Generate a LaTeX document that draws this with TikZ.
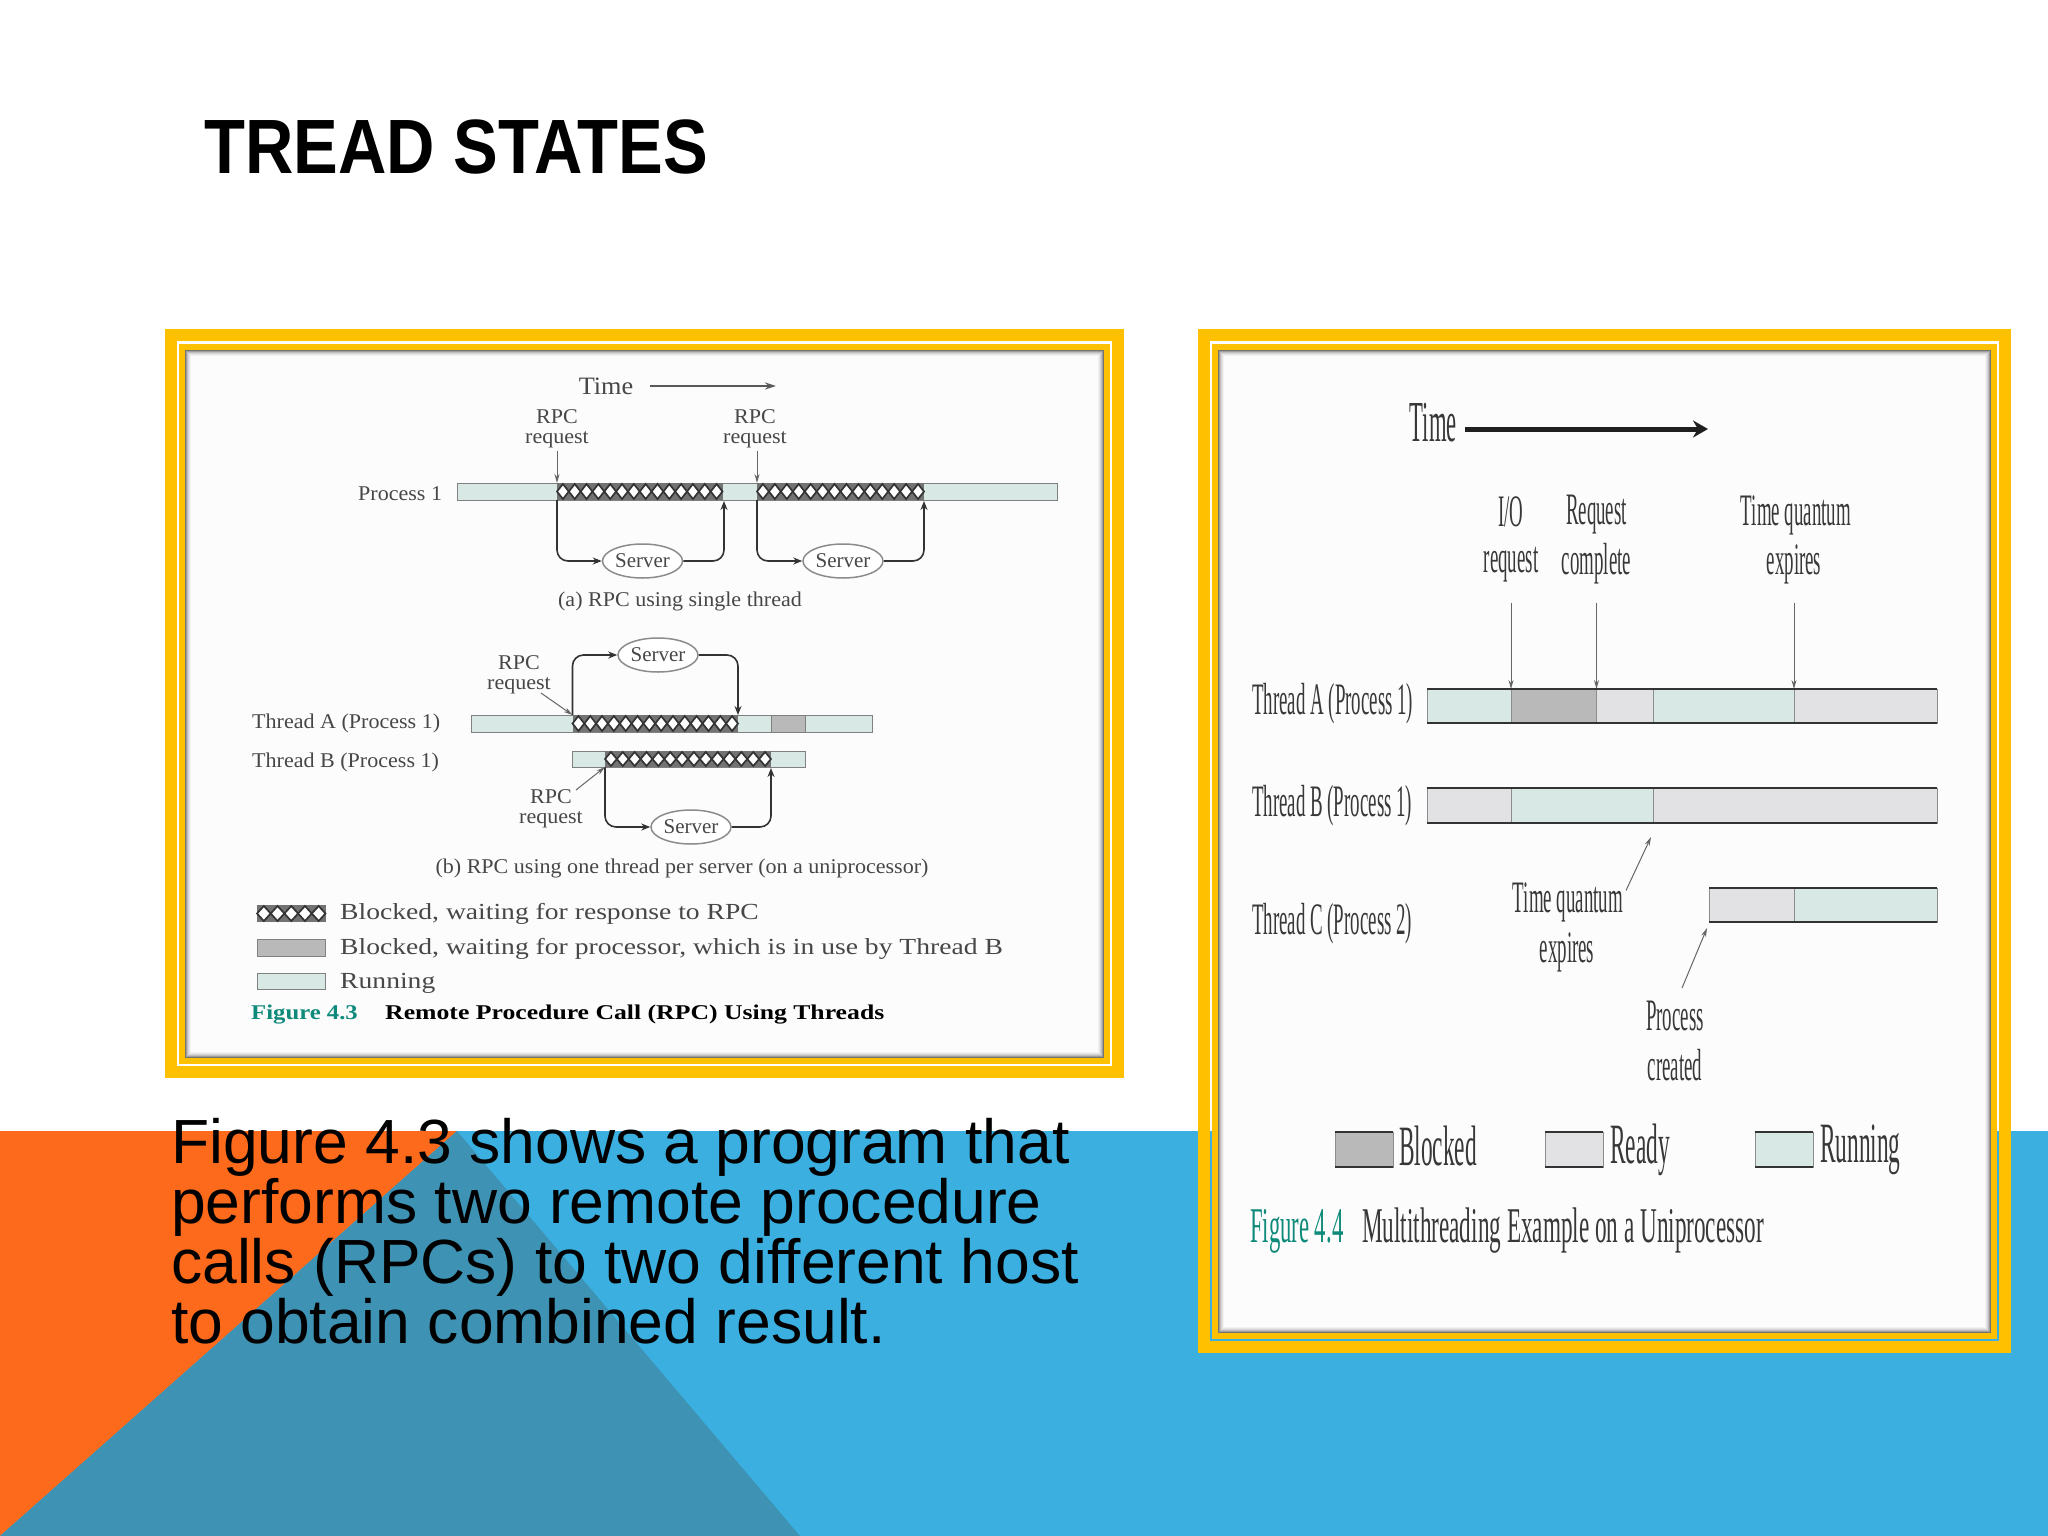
\documentclass[tikz,border=0pt]{standalone}
\usepackage{fontspec}
\setmainfont{Liberation Sans}
\newfontfamily\figserif{Liberation Serif}
\usetikzlibrary{arrows.meta,shapes.geometric}
\definecolor{goldcol}{HTML}{FFC000}
\definecolor{bandblue}{HTML}{3BB0E0}
\definecolor{bandorange}{HTML}{FD6A1B}
\definecolor{banddark}{HTML}{3E93B5}
\definecolor{runcol}{HTML}{D8E8E4}
\definecolor{readycol}{HTML}{E2E2E4}
\definecolor{blockcol}{HTML}{B9B9B9}
\definecolor{figteal}{HTML}{0E8A7A}
\def\hatchbar(#1,#2,#3,#4){
	\fill[black!55] (#1,#2) rectangle (#3,#4);
	\pgfmathtruncatemacro{\nhatch}{(#3-#1)/11.8}
	\foreach \i in {1,...,\nhatch}{
		\draw[black!80, line width=1.7pt, fill=white] ({#1+(\i-1)*(#3-#1)/\nhatch},{(#2+#4)/2}) -- ({#1+(\i-0.5)*(#3-#1)/\nhatch},{#2+1}) -- ({#1+\i*(#3-#1)/\nhatch},{(#2+#4)/2}) -- ({#1+(\i-0.5)*(#3-#1)/\nhatch},{#4-1}) -- cycle;
	}
}
\def\framepair(#1,#2,#3,#4){
	\draw[goldcol, line width=12pt] (#1+6,#2+6) rectangle (#3-6,#4-6);
	\draw[goldcol, line width=6pt] (#1+17,#2+18) rectangle (#3-17,#4-17);
	\fill[white!99!black] (#1+20,#2+21) rectangle (#3-20,#4-20);
	\foreach \d/\c in {5.5/5, 4.5/10, 3.5/16, 2.5/26, 1.5/38, 0.5/55}{
		\draw[black!\c, line width=1pt] (#1+20+\d,#2+21+\d) rectangle (#3-20-\d,#4-20-\d);
	}
}
\tikzset{
	smalltext/.style={font=\figserif\fontsize{21}{21}\selectfont, text=black!72, inner sep=0pt, xscale=1.05},
	legendtext/.style={font=\figserif\fontsize{23}{23}\selectfont, text=black!72, inner sep=0pt, anchor=west, xscale=1.2},
	talltext/.style={font=\figserif\fontsize{45}{45}\selectfont, text=black!78, inner sep=0pt, xscale=0.42},
	thinarrow/.style={draw=black!60, line width=1pt, -{Stealth[length=9pt,width=5pt]}},
	callline/.style={draw=black!80, line width=1.6pt, rounded corners=11pt},
	callarrow/.style={callline, -{Stealth[length=9pt,width=7pt]}},
	server/.style={ellipse, draw=black!45, line width=1.5pt, fill=white, inner sep=0pt, minimum width=80pt, minimum height=34pt, font=\figserif\fontsize{21}{21}\selectfont, text=black!72},
	lbar/.style={draw=black!50, line width=1pt},
	rbar/.style={draw=black!45, line width=1pt},
}
\begin{document}
\begin{tikzpicture}[x=1pt, y=-1pt]
			%%%%% BACKGROUND %%%%%
			\useasboundingbox (0,0) rectangle (2048,1536);
			\fill[white] (0,0) rectangle (2048,1536);
			\fill[bandblue] (0,1131) rectangle (2048,1536);
			\fill[bandorange] (0,1131) -- (457,1131) -- (0,1536) -- cycle;
			\fill[banddark] (457,1131) -- (800,1536) -- (0,1536) -- cycle;
			
			\node[font=\bfseries\fontsize{77}{77}\selectfont, anchor=base west, inner sep=0pt, xscale=0.87] (title) at (204,174) {TREAD STATES};
			
			\node[font=\fontsize{62.4}{60}\selectfont, align=left, anchor=north west, inner sep=0pt] (body) at (171,1118) {Figure 4.3 shows a program that\\performs two remote procedure\\calls (RPCs) to two different host\\to obtain combined result.};
			
			%%%%% LEFT FIGURE %%%%%
			\framepair(165,329,1124,1078);
			
			\node[smalltext, font=\figserif\fontsize{25}{25}\selectfont] (timea) at (606,386) {Time};
			\coordinate (timeas) at (650,386);
			\coordinate (timeae) at (776,386);
			\draw[draw=black!65, line width=1.8pt, -{Stealth[length=11pt,width=7pt]}] (timeas) -- (timeae);
			
			\node[smalltext, align=center] (rpca) at (557,428.5) {RPC\\[-1pt]request};
			\node[smalltext, align=center] (rpcb) at (755,428.5) {RPC\\[-1pt]request};
			\node[smalltext, anchor=west] (proca) at (358,494) {Process 1};
			
			% process 1
			\draw[lbar, fill=runcol] (457,483) rectangle (1057,500);
			\hatchbar(557,483,722.5,500);
			\hatchbar(757,483,924,500);
			
			\coordinate (pa) at (557,483);
			\coordinate (pb) at (557,500);
			\coordinate (pc) at (724,501);
			\coordinate (pd) at (757,483);
			\coordinate (pe) at (757,500);
			\coordinate (pf) at (924,501);
			\coordinate (rpcafoot) at (557,451);
			\coordinate (rpcbfoot) at (757,451);
			\node[server] (srva) at (642.5,561) {Server};
			\node[server] (srvb) at (843,561) {Server};
			\draw[thinarrow] (rpcafoot) -- (pa);
			\draw[thinarrow] (rpcbfoot) -- (pd);
			\draw[callarrow] (pb) |- (srva.west);
			\draw[callarrow] (srva.east) -| (pc);
			\draw[callarrow] (pe) |- (srvb.west);
			\draw[callarrow] (srvb.east) -| (pf);
			
			\node[smalltext] (capa) at (680,601.5) {(a) RPC using single thread};
			
			% threads A and B
			\node[server] (srvc) at (658,655) {Server};
			\node[smalltext, align=center] (rpcc) at (519,675) {RPC\\[-1pt]request};
			\node[smalltext, anchor=west] (thra) at (252,723) {Thread A (Process 1)};
			\node[smalltext, anchor=west] (thrb) at (252,762) {Thread B (Process 1)};
			
			\draw[lbar, fill=runcol] (471,715) rectangle (872.5,732);
			\hatchbar(572.5,715,738,732);
			\draw[lbar, fill=blockcol] (771,715) rectangle (805,732);
			\draw[lbar, fill=runcol] (572.5,751) rectangle (805,767);
			\hatchbar(605,751,771,767);
			
			\coordinate (ta) at (572.5,715);
			\coordinate (tb) at (738,715);
			\coordinate (tc) at (605,767);
			\coordinate (td) at (771,768);
			\coordinate (rpccfoot) at (541,693);
			\coordinate (rpcdfoot) at (576,790);
			\draw[callarrow] (ta) |- (srvc.west);
			\draw[callarrow] (srvc.east) -| (tb);
			\draw[thinarrow] (rpccfoot) -- (ta);
			
			\node[server] (srvd) at (691,827) {Server};
			\node[smalltext, align=center] (rpcd) at (551,808.5) {RPC\\[-1pt]request};
			\draw[callarrow] (tc) |- (srvd.west);
			\draw[callarrow] (srvd.east) -| (td);
			\draw[thinarrow] (rpcdfoot) -- (tc);
			
			\node[smalltext] (capb) at (682,868) {(b) RPC using one thread per server (on a uniprocessor)};
			
			% legend
			\hatchbar(257,905,325.5,922);
			\draw[lbar, fill=blockcol] (257,939) rectangle (325.5,956);
			\draw[lbar, fill=runcol] (257,973) rectangle (325.5,989);
			\node[legendtext] (lega) at (340,914) {Blocked, waiting for response to RPC};
			\node[legendtext] (legb) at (340,949) {Blocked, waiting for processor, which is in use by Thread B};
			\node[legendtext] (legc) at (340,983) {Running};
			\node[legendtext, font=\figserif\bfseries\fontsize{21}{21}\selectfont, text=figteal, xscale=0.98] (figa) at (251,1015) {Figure 4.3};
			\node[legendtext, font=\figserif\bfseries\fontsize{21}{21}\selectfont, text=black, xscale=1.02] (figb) at (385,1015) {Remote Procedure Call (RPC) Using Threads};
			
			%%%%% RIGHT FIGURE %%%%%
			\framepair(1198,329,2011,1353);
			
			\node[talltext, font=\figserif\fontsize{58}{58}\selectfont, xscale=0.93, anchor=east] (timeb) at (1457,423) {Time};
			\coordinate (timebs) at (1465,429);
			\coordinate (timebe) at (1708,429);
			\draw[draw=black!88, line width=5pt, -{Stealth[length=15pt,width=17pt]}] (timebs) -- (timebe);
			
			\node[talltext] (ioa) at (1511,512) {I/O};
			\node[talltext] (iob) at (1511,565) {request};
			\node[talltext] (reqa) at (1596.5,515) {Request};
			\node[talltext] (reqb) at (1596.5,564) {complete};
			\node[talltext] (tqa) at (1796,515) {Time quantum};
			\node[talltext] (tqb) at (1794,564) {expires};
			
			\coordinate (aa) at (1511,603);
			\coordinate (ab) at (1511,689);
			\coordinate (ac) at (1596.5,603);
			\coordinate (ad) at (1596.5,689);
			\coordinate (ae) at (1794,603);
			\coordinate (af) at (1794,689);
			\draw[thinarrow] (aa) -- (ab);
			\draw[thinarrow] (ac) -- (ad);
			\draw[thinarrow] (ae) -- (af);
			
			\node[talltext, anchor=west] (tha) at (1252,704) {Thread A (Process 1)};
			\node[talltext, anchor=west] (thb) at (1252,806) {Thread B (Process 1)};
			\node[talltext, anchor=west] (thc) at (1252,924) {Thread C (Process 2)};
			
			\foreach \xa/\xb/\c in {1427/1511/runcol, 1511/1596.5/blockcol, 1596.5/1653.4/readycol, 1653.4/1794/runcol, 1794/1937/readycol}{
				\draw[rbar, fill=\c] (\xa,689) rectangle (\xb,723);
			}
			\foreach \xa/\xb/\c in {1427/1511/readycol, 1511/1653.4/runcol, 1653.4/1937/readycol}{
				\draw[rbar, fill=\c] (\xa,788) rectangle (\xb,823);
			}
			\foreach \xa/\xb/\c in {1709/1794/readycol, 1794/1937/runcol}{
				\draw[rbar, fill=\c] (\xa,888) rectangle (\xb,922);
			}
			\foreach \xa/\xb/\ya/\yb in {1427/1937/689/723, 1427/1937/788/823, 1709/1937/888/922}{
				\draw[black!80, line width=2pt] (\xa,\ya) -- (\xb,\ya) (\xa,\yb) -- (\xb,\yb);
			}
			
			\node[talltext] (tqc) at (1568,902) {Time quantum};
			\node[talltext] (tqd) at (1567,952.5) {expires};
			\node[talltext] (pca) at (1675,1016) {Process};
			\node[talltext] (pcb) at (1675,1065) {created};
			\coordinate (tqs) at (1626,890.5);
			\coordinate (tqe) at (1651,837);
			\coordinate (pcs) at (1682,988);
			\coordinate (pce) at (1707,928);
			\draw[thinarrow] (tqs) -- (tqe);
			\draw[thinarrow] (pcs) -- (pce);
			
			% legend
			\foreach \x/\c in {1335/blockcol, 1545/readycol, 1755/runcol}{
				\draw[rbar, fill=\c] (\x,1132) rectangle (\x+58,1167);
				\draw[black!80, line width=2pt] (\x,1132) -- (\x+58,1132) (\x,1167) -- (\x+58,1167);
			}
			\node[talltext, font=\figserif\fontsize{57}{57}\selectfont, xscale=0.976, anchor=west] (lbla) at (1399,1146) {Blocked};
			\node[talltext, font=\figserif\fontsize{57}{57}\selectfont, xscale=0.976, anchor=west] (lblb) at (1610,1150) {Ready};
			\node[talltext, font=\figserif\fontsize{57}{57}\selectfont, xscale=0.976, anchor=west] (lblc) at (1820,1150) {Running};
			
			\node[talltext, font=\figserif\fontsize{50}{50}\selectfont, text=figteal, xscale=1.08, anchor=west] (figc) at (1250,1231) {Figure 4.4};
			\node[talltext, font=\figserif\fontsize{50}{50}\selectfont, xscale=1.104, anchor=west] (figd) at (1362,1231) {Multithreading Example on a Uniprocessor};
			%%%%% END %%%%%
		\end{tikzpicture}
\end{document}
